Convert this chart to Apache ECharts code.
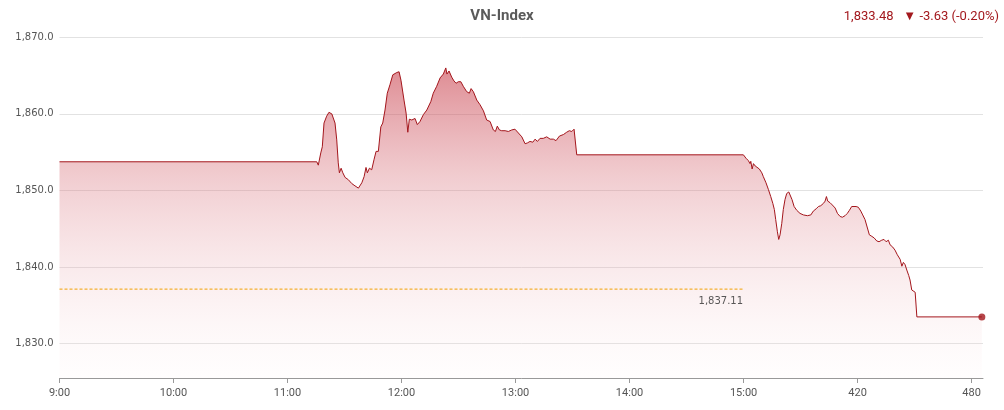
<!DOCTYPE html>
<html>
<head>
<meta charset="utf-8">
<script src="https://cdn.jsdelivr.net/npm/echarts@6/dist/echarts.min.js"></script>
<style>
html,body{margin:0;padding:0;background:#fff;}
#chart{width:1004px;height:410px;}
</style>
</head>
<body>
<div id="chart"></div>
<script>
// Minutes after 9:00
const minutes = [0,135.4,136.2,137.5,138.3,139.2,140.6,141.8,143.3,144.1,145.0,145.9,146.7,147.3,148.2,149.1,150.3,152.0,153.8,155.5,157.3,159.1,160.3,161.3,162.0,163.1,164.3,165.5,166.6,167.8,169.1,170.1,171.3,172.5,173.9,175.4,177.5,178.7,179.7,181.3,182.4,183.3,184.1,185.4,186.2,187.1,188.3,189.7,191.5,193.3,195.4,196.7,198.5,200.3,202.0,203.3,203.9,205.0,206.4,207.6,208.7,209.9,211.2,212.5,214.3,215.7,216.6,217.8,219.6,221.3,223.1,224.8,226.6,228.3,229.4,230.4,231.5,232.7,234.5,236.2,238.0,239.7,241.5,243.3,245.0,246.2,247.6,249.1,250.3,251.5,252.9,254.6,256.4,258.2,259.9,261.3,263.1,265.2,266.9,268.3,269.6,270.8,271.5,272.2,359.9,361.3,362.5,363.4,363.8,364.5,365.2,366.1,366.9,368.3,369.6,370.4,371.8,373.1,374.3,375.4,376.2,376.9,377.8,378.5,379.2,380.1,380.9,381.8,382.7,383.8,384.5,385.5,386.6,388.0,389.7,391.5,393.6,395.4,396.7,398.2,399.4,400.6,402.0,402.9,403.6,404.3,405.5,406.7,408.2,409.4,410.8,412.0,413.4,414.6,415.7,416.9,417.8,419.2,420.4,421.7,422.7,423.9,424.8,426.2,427.5,428.7,430.1,431.3,432.7,433.9,435.0,436.2,437.1,438.5,439.7,440.9,442.4,443.3,444.1,445.0,445.9,446.9,447.6,448.5,449.4,450.3,451.2,485.4];
const indexValues = [1853.74,1853.74,1853.3,1854.9,1855.7,1858.8,1859.7,1860.2,1860.0,1859.9,1858.8,1856.6,1853.6,1852.3,1852.9,1852.3,1851.7,1851.4,1850.9,1850.6,1850.3,1851.0,1851.8,1853.0,1852.3,1852.9,1852.7,1854.0,1855.1,1855.1,1858.3,1858.8,1860.5,1862.7,1863.8,1865.1,1865.4,1865.5,1864.4,1861.8,1860.1,1857.6,1859.3,1859.2,1859.1,1859.4,1858.6,1859.0,1859.9,1860.5,1861.6,1862.7,1863.6,1864.7,1865.2,1866.0,1865.2,1865.6,1864.8,1864.3,1864.0,1864.2,1864.2,1863.6,1862.9,1862.7,1863.3,1862.9,1861.8,1861.2,1860.4,1859.2,1859.0,1857.9,1857.7,1858.4,1857.9,1857.8,1857.8,1857.7,1857.9,1858.0,1857.5,1857.0,1856.1,1856.2,1856.4,1856.3,1856.7,1856.4,1856.8,1856.8,1857.0,1856.7,1856.7,1856.5,1857.1,1857.3,1857.6,1857.8,1857.7,1858.0,1857.9,1854.65,1854.65,1854.2,1853.9,1853.5,1853.8,1852.8,1853.5,1853.2,1853.1,1852.8,1852.3,1851.8,1851.0,1850.1,1849.2,1848.3,1847.5,1846.2,1844.6,1843.6,1844.2,1845.7,1847.5,1848.8,1849.6,1849.8,1849.7,1848.8,1847.9,1847.4,1847.0,1846.8,1846.7,1846.8,1847.3,1847.6,1847.9,1848.0,1848.3,1848.6,1849.2,1848.6,1848.4,1848.1,1847.7,1847.0,1846.6,1846.5,1846.7,1847.0,1847.4,1847.9,1848.1,1847.9,1847.8,1847.3,1846.8,1846.2,1846.0,1844.2,1844.0,1843.8,1843.4,1843.3,1843.5,1843.6,1843.3,1843.5,1842.9,1842.6,1842.2,1841.6,1841.0,1840.1,1840.6,1840.3,1839.6,1838.9,1838.3,1837.0,1836.8,1836.7,1833.48,1833.48];
const tickMinutes = [0,60,120,180,240,300,360,420,480];
const tickLabels = ['9:00','10:00','11:00','12:00','13:00','14:00','15:00','420','480'];
const yTicks = [1830,1840,1850,1860,1870];
const refValue = 1837.11;
const refEndMinute = 360;
const titleText = 'VN-Index';
const lastValue = 1833.48;
const change = -3.63;
const changePct = -0.20;

function fmt(v, d) {
  const s = Math.abs(v).toFixed(d);
  const parts = s.split('.');
  parts[0] = parts[0].replace(/\B(?=(\d{3})+(?!\d))/g, ',');
  return (v < 0 ? '-' : '') + parts.join('.');
}

const seriesData = minutes.map((m, i) => [m, indexValues[i]]);
const lastPoint = seriesData[seriesData.length - 1];
const refLine = [[0, refValue], [refEndMinute, refValue]];

const chart = echarts.init(document.getElementById('chart'), null, {renderer: 'canvas'});
chart.setOption({
  animation: false,
  backgroundColor: '#ffffff',
  grid: {left: 59.5, right: 21, top: 37.3, bottom: 32, containLabel: false},
  graphic: [
    {type: 'text', left: 'center', top: 9, style: {text: titleText, font: 'bold 15px Roboto', fill: '#5a5a5a'}},
    {type: 'text', right: 5, top: 10, style: {
      text: fmt(lastValue, 2) + '   \u25BC ' + fmt(change, 2) + ' (' + fmt(changePct, 2) + '%)',
      font: '13px Roboto', fill: '#a3191e'}}
  ],
  xAxis: {
    type: 'value', min: 0, max: 486,
    splitLine: {show: false},
    axisLine: {show: true, lineStyle: {color: '#999', width: 1}},
    axisTick: {show: true, length: 5, lineStyle: {color: '#999'}, customValues: tickMinutes},
    axisLabel: {
      customValues: tickMinutes, margin: 10,
      color: '#555', fontFamily: 'Roboto', fontSize: 11,
      formatter: function (v) { const i = tickMinutes.indexOf(v); return i >= 0 ? tickLabels[i] : ''; }
    }
  },
  yAxis: {
    type: 'value', min: 1825.5, max: 1870, scale: true,
    axisLine: {show: false},
    splitLine: {show: true, lineStyle: {color: '#e2e2e2', width: 1}},
    axisLabel: {
      customValues: yTicks, margin: 6,
      color: '#555', fontFamily: 'DejaVu Sans', fontSize: 10,
      formatter: function (v) { return fmt(v, 1); }
    },
    axisTick: {show: false, customValues: yTicks}
  },
  series: [
    {
      type: 'line', data: seriesData, showSymbol: false, symbol: 'none', z: 2,
      lineStyle: {color: '#a3161c', width: 1},
      areaStyle: {
        origin: 'start',
        color: new echarts.graphic.LinearGradient(0, 0, 0, 1, [
          {offset: 0, color: 'rgba(200,62,74,0.85)'},
          {offset: 0.35, color: 'rgba(215,110,120,0.5)'},
          {offset: 1, color: 'rgba(255,240,242,0.15)'}
        ])
      }
    },
    {
      type: 'line', data: refLine, showSymbol: false, symbol: 'none', z: 4, silent: true,
      lineStyle: {color: '#f2a100', type: [3, 2], width: 1}
    },
    {
      type: 'scatter', data: [refLine[1]], symbol: 'circle', symbolSize: 1, z: 4, silent: true,
      itemStyle: {color: 'rgba(0,0,0,0)'},
      label: {
        show: true, position: [0, 8], align: 'right', verticalAlign: 'top',
        color: '#2e2e2e', fontFamily: 'DejaVu Sans', fontSize: 10,
        formatter: function (p) { return fmt(p.value[1], 2); }
      }
    },
    {
      type: 'scatter', data: [lastPoint], symbol: 'circle', symbolSize: 7, z: 5,
      itemStyle: {color: '#a3161c'}, silent: true
    }
  ]
});
</script>
</body>
</html>
